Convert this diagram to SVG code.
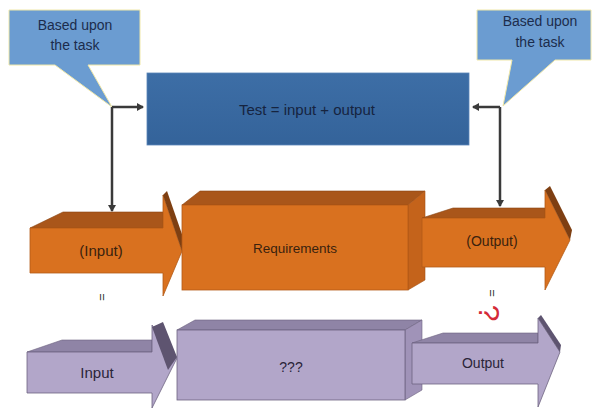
<svg xmlns="http://www.w3.org/2000/svg" width="595" height="410" viewBox="0 0 595 410">
<defs>
<marker id="ah" markerWidth="8" markerHeight="8" refX="6" refY="4" orient="auto" markerUnits="userSpaceOnUse">
<path d="M0,0 L7,4 L0,8 Z" fill="#3a3a3a"/>
</marker>
<linearGradient id="blueg" x1="0" y1="0" x2="0" y2="1">
<stop offset="0" stop-color="#3d6ea6"/>
<stop offset="1" stop-color="#34639a"/>
</linearGradient>
<style>
text{font-family:"Liberation Sans",Arial,sans-serif;text-anchor:middle}
.callout{fill:#6b9cd1;stroke:#efe7a8;stroke-width:1}
.ctext{font-size:14px;fill:#1c2c4c}
.conn{fill:none;stroke:#3a3a3a;stroke-width:2.5}
.of{fill:#d9711f;stroke:#b35a17;stroke-width:0.8}
.ot{fill:#a9561a;stroke:#8a4412;stroke-width:0.6}
.od{fill:#7e3f12}
.os{fill:#c4631b;stroke:#a65316;stroke-width:0.6}
.otext{font-size:14px;fill:#3a220e}
.pf{fill:#b2a6c9;stroke:#6d6380;stroke-width:0.8}
.pt{fill:#8f84a6;stroke:#6d6380;stroke-width:0.6}
.pd{fill:#5e5470}
.ps{fill:#a093b8;stroke:#6d6380;stroke-width:0.6}
.ptext{font-size:15px;fill:#2a2438}
.eq{font-size:13px;fill:#333}
</style>
</defs>
<rect width="595" height="410" fill="#ffffff"/>

<g id="callout-left">
<path class="callout" d="M9,10 H140 V65 H88 L112,107 L55,65 H9 Z"/>
<text class="ctext" x="75" y="30">Based upon</text>
<text class="ctext" x="75" y="50">the task</text>
</g>

<g id="callout-right">
<path class="callout" d="M477,10 H591 V60 H555 L503,106 L512,60 H477 Z"/>
<text class="ctext" x="540" y="26">Based upon</text>
<text class="ctext" x="540" y="47">the task</text>
</g>

<g id="test-box">
<rect x="147" y="73" width="322" height="72" fill="url(#blueg)" stroke="#5a86b8" stroke-width="0.8"/>
<text x="307" y="115" style="font-size:15px;fill:#16243f">Test = input + output</text>
</g>

<g id="connectors">
<path class="conn" d="M112,107 H143" marker-end="url(#ah)"/>
<path class="conn" d="M112,107 V211" marker-end="url(#ah)"/>
<path class="conn" d="M500,107 H473" marker-end="url(#ah)"/>
<path class="conn" d="M500,107 V206" marker-end="url(#ah)"/>
</g>

<g id="input-orange">
<polygon class="ot" points="30,228 63,212 163,212 163,228"/>
<polygon class="of" points="30,228 163,228 163,195 182,251 163,296 163,273 30,273"/>
<polygon class="od" points="163,195 167,191 184,240 182,251"/>
<text class="otext" x="101" y="256" style="font-size:15px">(Input)</text>
</g>

<g id="requirements">
<polygon class="ot" points="182,205 200,191 425,191 408,205"/>
<polygon class="os" points="408,205 425,191 425,280 408,290"/>
<rect class="of" x="182" y="205" width="226" height="85"/>
<text class="otext" x="295" y="253" style="font-size:13.5px">Requirements</text>
</g>

<g id="output-orange">
<polygon class="ot" points="422,218 453,208 545,208 545,218"/>
<polygon class="of" points="422,218 545,218 545,190 570,240 545,290 545,267 422,267"/>
<polygon class="od" points="545,190 550,186 572,230 570,240"/>
<text class="otext" x="492" y="246">(Output)</text>
</g>

<g id="equals-marks">
<text class="eq" x="102" y="301.5" transform="rotate(90 102 297)">=</text>
<text class="eq" x="492" y="297.5" transform="rotate(90 492 293)">=</text>
<text x="490" y="324" transform="rotate(90 490 313)" style="font-size:30px;fill:#d42a38">?</text>
</g>

<g id="input-purple">
<polygon class="pt" points="27,352 62,340 152,340 152,352"/>
<polygon class="pf" points="27,352 152,352 152,325 177,358 152,408 152,393 27,393"/>
<polygon class="pd" points="152,327 163,322 177,357 168,370"/>
<text class="ptext" x="97" y="378">Input</text>
</g>

<g id="unknown-box">
<polygon class="pt" points="177,330 195,320 422,320 405,330"/>
<polygon class="ps" points="405,330 422,320 422,390 405,400"/>
<rect class="pf" x="177" y="330" width="228" height="70"/>
<text class="ptext" x="291" y="372" style="font-size:14px">???</text>
</g>

<g id="output-purple">
<polygon class="pt" points="412,343 443,333 538,333 538,343"/>
<polygon class="pf" points="412,343 538,343 538,318 560,352 538,407 538,384 412,384"/>
<polygon class="pd" points="538,318 541,315 561,345 560,352"/>
<text class="ptext" x="483" y="368" style="font-size:14px">Output</text>
</g>
</svg>
